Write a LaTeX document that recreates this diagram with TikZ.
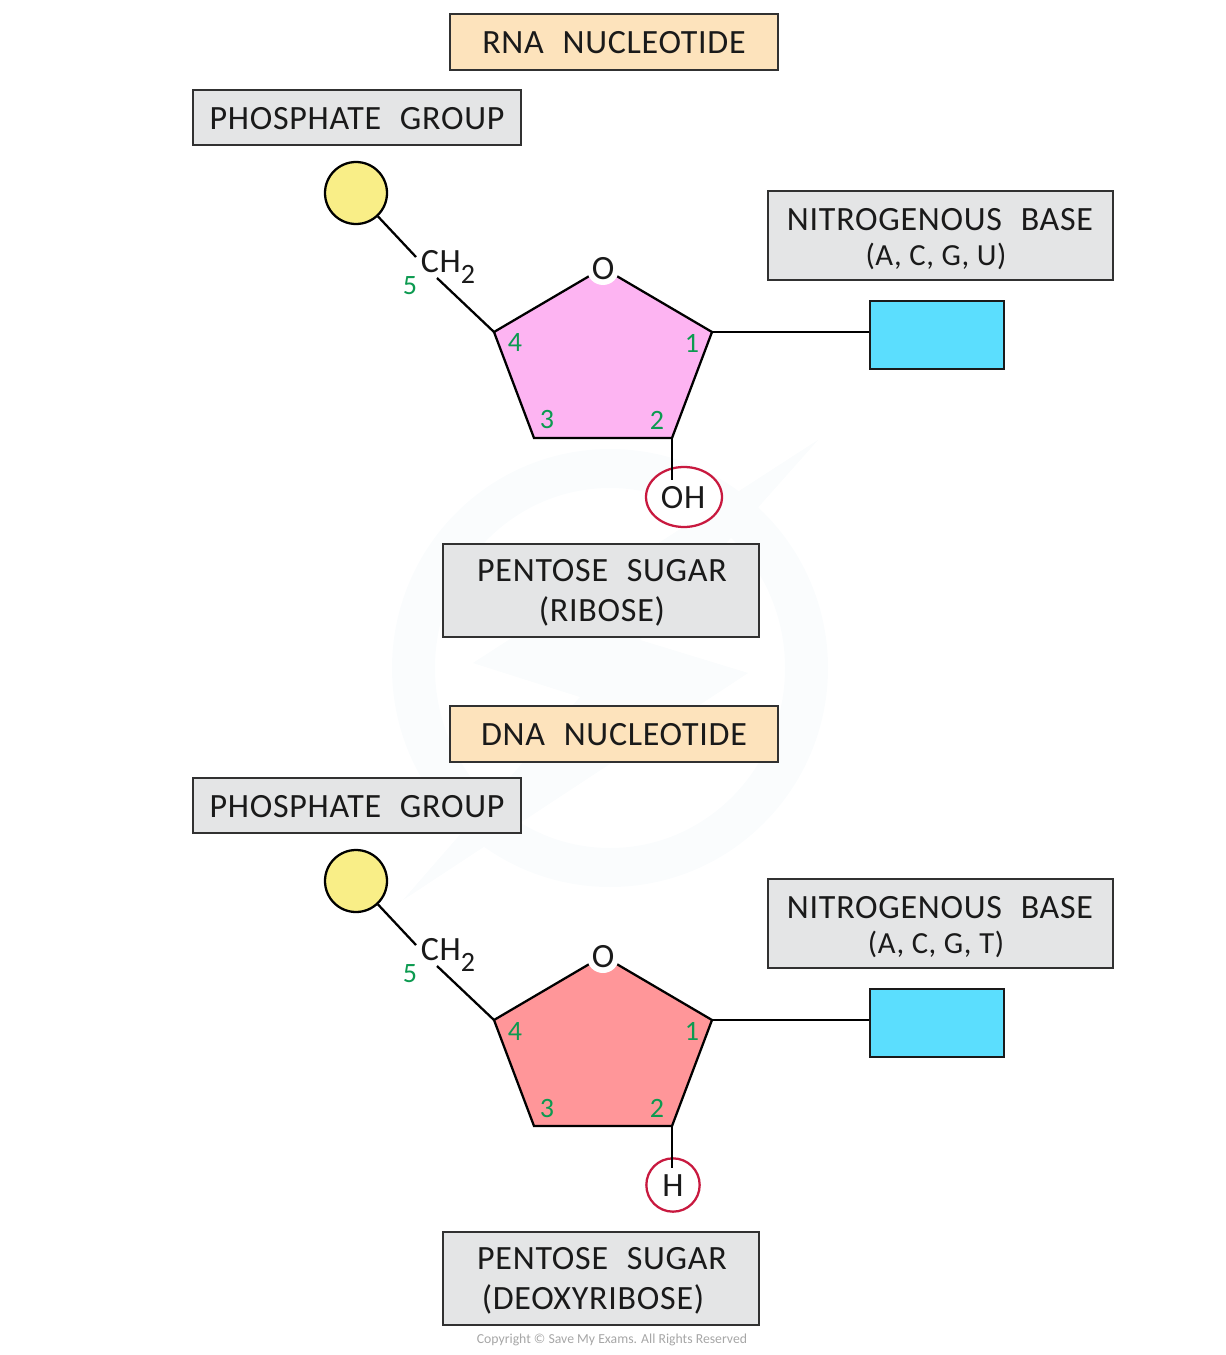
\documentclass[tikz,border=0pt]{standalone}
\usepackage{fontspec}
\usetikzlibrary{shapes.geometric}
\setmainfont[LetterSpace=2.2]{Carlito}
\newfontfamily\plainfont{Carlito}
\definecolor{boxgrey}{HTML}{E4E5E6}
\definecolor{titlefill}{HTML}{FDE3BC}
\definecolor{ribosefill}{HTML}{FDB4F2}
\definecolor{deoxyfill}{HTML}{FF9699}
\definecolor{basefill}{HTML}{5BDEFE}
\definecolor{phosfill}{HTML}{F9EE87}
\definecolor{ringred}{HTML}{C8193F}
\definecolor{numgreen}{HTML}{0C9A50}
\definecolor{ink}{HTML}{1A1A1A}
\definecolor{wm}{HTML}{FAFCFD}
\newcommand{\gap}{\hspace{14pt}}
\tikzset{
  lab/.style={text=ink,inner sep=0pt,font=\fontsize{25.5}{30}\selectfont,align=center},
  num/.style={text=numgreen,inner sep=0pt,font=\plainfont\fontsize{21}{24}\selectfont},
  bond/.style={draw=black,line width=1.7pt},
  boxline/.style={draw=ink!90,line width=1.2pt},
  greybox/.style={boxline,fill=boxgrey},
  titlebox/.style={boxline,fill=titlefill},
  phos/.style={draw=black,line width=1.7pt,fill=phosfill,circle,minimum size=46.5pt,inner sep=0pt},
  redring/.style={draw=ringred,line width=1.7pt,fill=white},
  ringO/.style={fill=white,circle,minimum size=24pt,inner sep=0pt,text=ink,font=\fontsize{25.5}{30}\selectfont}
}
% #1 suffix, #2 y offset, #3 sugar fill, #4 title offset
\newcommand{\nucleotide}[9]{%
  \begin{scope}[shift={(0,#2)}]
    \draw[titlebox] (450,14+#4) rectangle (778,70+#4);
    \node[lab] (title#1) at (614,43+#4) {#5\gap NUCLEOTIDE};
    \draw[greybox] (193,90) rectangle (521,145);
    \node[lab] (phl#1) at (357,119) {PHOSPHATE\gap GROUP};
    \draw[greybox] (768,191) rectangle (1113,280);
    \node[lab] (bl#1) at (940,220) {NITROGENOUS\gap BASE};
    \node[lab] (bs#1) at (936,256) {\fontsize{23}{27}\selectfont #6};
    \draw[greybox] (443,544) rectangle (759,637);
    \node[lab] (sl#1) at (602,571) {PENTOSE\gap SUGAR};
    \node[lab] (ss#1) at (#8,611) {#7};
    \coordinate (c4#1) at (494,332);
    \coordinate (c1#1) at (712,332);
    \coordinate (c2#1) at (672,438);
    \coordinate (c3#1) at (534,438);
    \coordinate (top#1) at (603,268);
    \draw[bond,fill=#3] (top#1) -- (c1#1) -- (c2#1) -- (c3#1) -- (c4#1) -- cycle;
    \node[ringO] (o#1) at (603,269) {O};
    \node[phos] (p#1) at (356,193) {};
    \node[lab] (ch#1) at (448,267) {CH\raisebox{-8pt}{\fontsize{21}{24}\selectfont 2}};
    \coordinate (chin#1) at (416,257);
    \coordinate (chout#1) at (437,278);
    \draw[bond] (p#1) -- (chin#1);
    \draw[bond] (chout#1) -- (c4#1);
    \node[num] (n5#1) at (410,286) {5};
    \node[num] (n4#1) at (515,343) {4};
    \node[num] (n1#1) at (692,343) {1};
    \node[num] (n3#1) at (547,420) {3};
    \node[num] (n2#1) at (657,420) {2};
    \node[draw=ink,line width=1.2pt,fill=basefill,minimum width=100.5pt,minimum height=51pt,inner sep=0pt] (b#1) at (937,335) {};
    \draw[bond] (c1#1) -- (b#1.west |- c1#1);
    #9
  \end{scope}}
\begin{document}
\begin{tikzpicture}[x=0.75pt,y=-0.75pt]
\useasboundingbox (0,0) rectangle (1226,1355);
% watermark
\fill[wm,even odd rule] (610,668) ellipse [x radius=218,y radius=219] (610,668) ellipse [x radius=175,y radius=180];
\fill[white] (818,440) -- (473,663) -- (580,697) -- (403,900) -- (748,673) -- (640,640) -- cycle;
\fill[wm] (818,440) -- (473,663) -- (580,697) -- (403,900) -- (748,673) -- (640,640) -- cycle;
\nucleotide{r}{0}{ribosefill}{0}{RNA}{(A, C, G, U)}{(RIBOSE)}{602}{%
    \node[redring,ellipse,minimum width=57pt,minimum height=45pt,inner sep=0pt] (oh) at (684,497) {};
    \coordinate (ohin) at (672,480);
    \draw[bond] (c2r) -- (ohin);
    \node[lab] (ohl) at (683,498) {OH};
}
\nucleotide{d}{688}{deoxyfill}{4}{DNA}{(A, C, G, T)}{(DEOXYRIBOSE)}{593}{%
    \node[redring,circle,minimum size=40pt,inner sep=0pt] (h) at (673,497) {};
    \coordinate (hin) at (672,480);
    \draw[bond] (c2d) -- (hin);
    \node[lab] (hl) at (673,498) {H};
}
\node[text=black!35,inner sep=0pt,font=\plainfont\fontsize{10.3}{12}\selectfont] (copy) at (612,1340) {Copyright © Save My Exams. All Rights Reserved};
\end{tikzpicture}
\end{document}
